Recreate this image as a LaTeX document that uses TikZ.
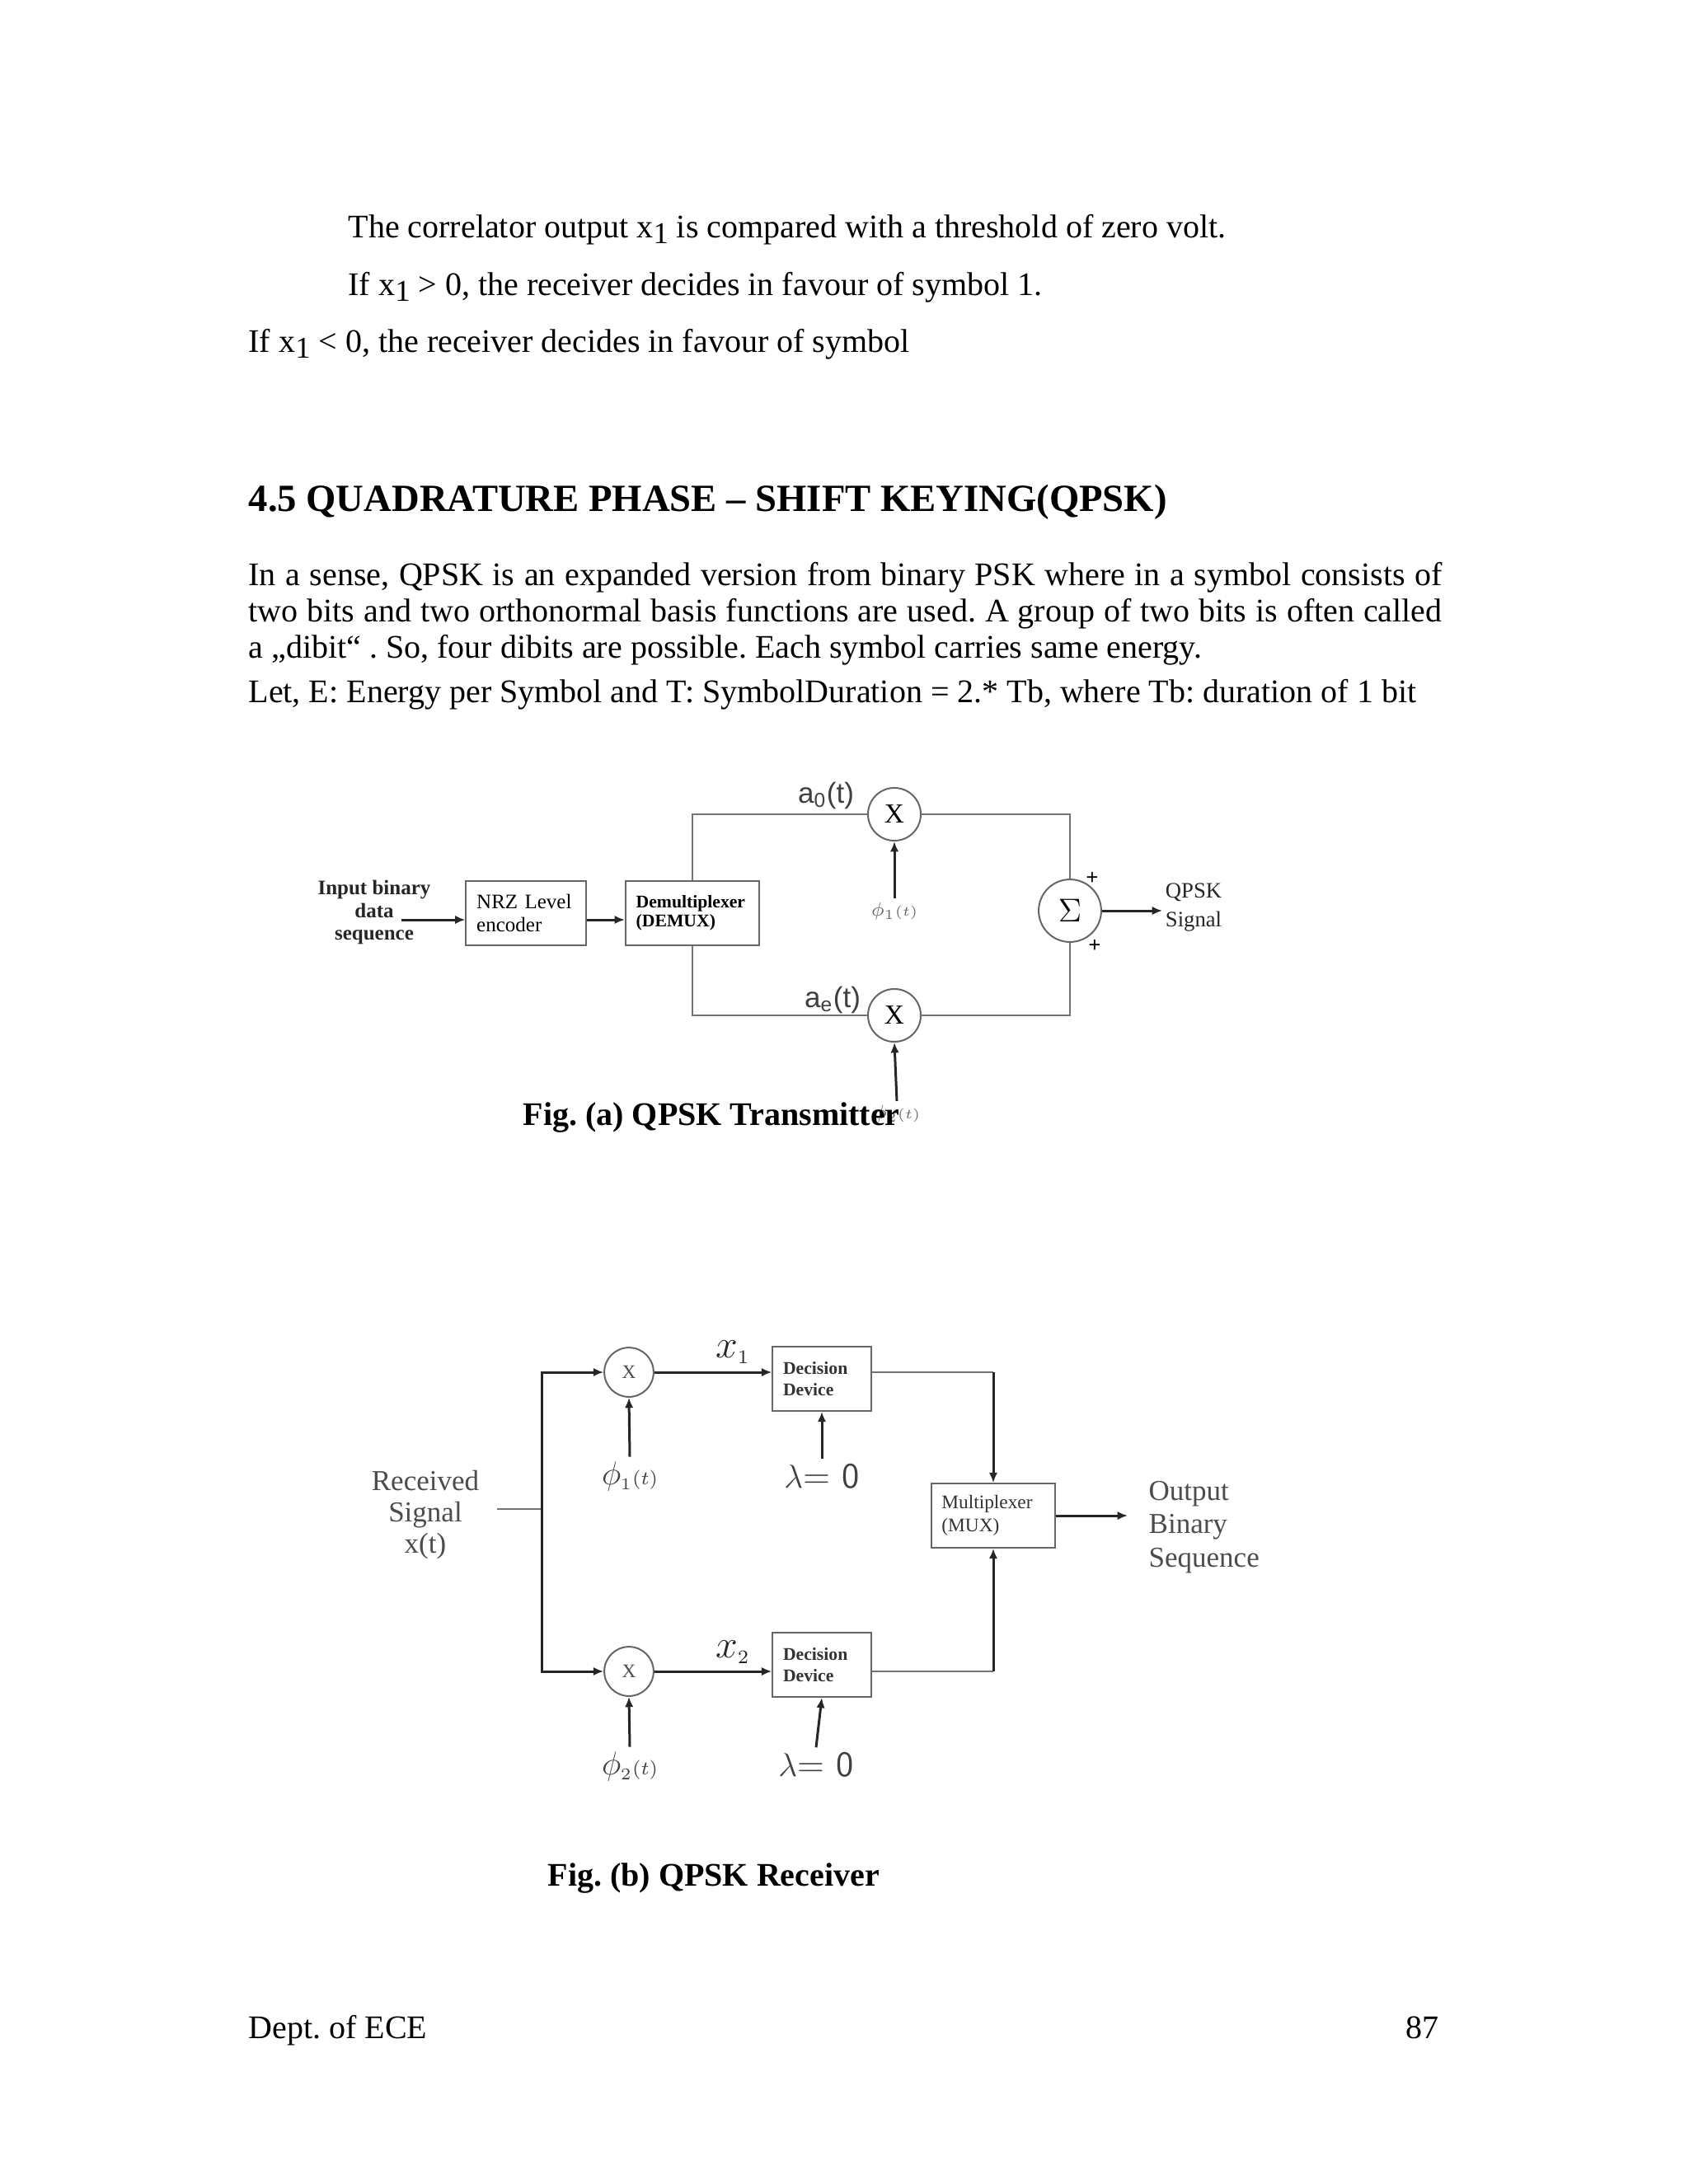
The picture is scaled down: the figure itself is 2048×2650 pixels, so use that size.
\documentclass[tikz,border=0pt]{standalone}
\usepackage{fontspec}
\setmainfont{Liberation Serif}
\newfontfamily\arialfont{Liberation Sans}
\usetikzlibrary{arrows.meta}
\newcommand{\fsz}[2]{\fontsize{#1}{#2}\selectfont}
\newcommand{\lowone}{\raisebox{-0.4ex}{\fsz{11}{11}1}}
\frenchspacing
\begin{document}
\begin{tikzpicture}[x=0.10542mm,y=-0.10542mm,
  every node/.style={inner sep=1.5pt},
  body/.style={anchor=base west,inner sep=0pt,font=\fsz{12}{14}},
  blk/.style={draw=black!60,line width=0.6pt,align=left,inner ysep=0pt,inner xsep=1.35mm},
  mult/.style={circle,draw=black!60,line width=0.6pt,inner sep=0pt},
  wire/.style={draw=black!55,line width=0.6pt},
  sig/.style={draw=black!85,line width=0.9pt,-{Latex[length=1.3mm,width=1.1mm]}}]

\fill[white] (0,0) rectangle (2048,2650);
\useasboundingbox (0,0) rectangle (2048,2650);

\node[body] (t1) at (422,288) {The correlator output x\lowone{} is compared with a threshold of zero volt.};
\node[body] (t2) at (422,358) {If x\lowone{} > 0, the receiver decides in favour of symbol 1.};
\node[body] (t3) at (301,427) {If x\lowone{} < 0, the receiver decides in favour of symbol};
\node[body,font=\bfseries\fsz{14}{16}] (head) at (301,620) {4.5 QUADRATURE PHASE – SHIFT KEYING(QPSK)};
\node[body] (p1) at (301,710) {\makebox[152.65mm][s]{In a sense, QPSK is an expanded version from binary PSK where in a symbol consists of}};
\node[body] (p2) at (301,754) {\makebox[152.65mm][s]{two bits and two orthonormal basis functions are used. A group of two bits is often called}};
\node[body] (p3) at (301,798) {a „dibit“ . So, four dibits are possible. Each symbol carries same energy.};
\node[body] (p4) at (301,852) {Let, E: Energy per Symbol and T: SymbolDuration = 2.* Tb, where Tb: duration of 1 bit};

\node[align=center,font=\bfseries\fsz{7.5}{8.2},text=black!85] (inp) at (454,1107) {Input binary\\data\\sequence};
\coordinate (in) at (487,1116);
\node[blk,text width=12.6mm,minimum height=8.3mm,font=\fsz{7.5}{8.4}] (nrz) at (638,1108) {NRZ Level\\encoder};
\node[blk,text width=14.4mm,minimum height=8.3mm,font=\bfseries\fsz{6.5}{7}] (demux) at (840,1108) {Demultiplexer\\(DEMUX)};
\node[mult,minimum size=6.75mm,font=\fsz{10}{10}] (mulA) at (1085,988) {X};
\node[mult,minimum size=6.75mm,font=\fsz{10}{10}] (mulB) at (1085,1232) {X};
\node[mult,minimum size=8mm,font=\fsz{12}{12}] (sum) at (1298,1105) {$\Sigma$};
\node[font=\arialfont\fsz{10.5}{10.5},text=black!75] (a0) at (1002,965) {a\textsubscript{0}(t)};
\node[font=\arialfont\fsz{10.5}{10.5},text=black!75] (ae) at (1010,1213) {a\textsubscript{e}(t)};
\node[font=\fsz{7.5}{7.5},text=black!60] (phiA) at (1085,1106) {$\phi_{\scriptscriptstyle 1}$\fsz{5}{5}$(t)$};
\node[font=\fsz{7.5}{7.5},text=black!60] (phiB) at (1088,1352) {$\phi_{\scriptscriptstyle 2}$\fsz{5}{5}$(t)$};
\node[font=\bfseries\fsz{8}{8}] (pa) at (1325,1066) {+};
\node[font=\bfseries\fsz{8}{8}] (pb) at (1328,1148) {+};
\coordinate (out) at (1410,1105);
\node[align=center,font=\fsz{8}{10.5},text=black!85] (qpsk) at (1448,1101) {QPSK\\Signal};
\draw[sig] (in) -- (nrz.west |- in);
\draw[sig] (nrz.east |- in) -- (demux.west |- in);
\draw[wire] (demux.north) |- (mulA.west);
\draw[wire] (demux.south) |- (mulB.west);
\draw[wire] (mulA.east) -| (sum.north);
\draw[wire] (mulB.east) -| (sum.south);
\draw[sig] (phiA.north) -- (mulA.south);
\draw[sig] (phiB.north) -- (mulB.south);
\draw[sig] (sum.east) -- (out);
\node[body,font=\bfseries\fsz{12}{14}] (capA) at (634,1365) {Fig. (a) QPSK Transmitter};

\node[align=center,font=\fsz{10.5}{11.5},text=black!70] (rcv) at (516,1838) {Received\\Signal\\x(t)};
\coordinate (rin) at (603,1831);
\coordinate (split) at (657,1831);
\node[mult,minimum size=6.3mm,font=\fsz{7}{7},text=black!70] (mulC) at (763,1665) {X};
\node[mult,minimum size=6.3mm,font=\fsz{7}{7},text=black!70] (mulD) at (763,2028) {X};
\node[blk,text width=9.9mm,minimum height=8.2mm,font=\bfseries\fsz{6.5}{8},text=black!80] (decC) at (997,1673) {Decision\\Device};
\node[blk,text width=9.9mm,minimum height=8.2mm,font=\bfseries\fsz{6.5}{8},text=black!80] (decD) at (997,2020) {Decision\\Device};
\node[blk,text width=13.2mm,minimum height=8.2mm,font=\fsz{7}{8.5},text=black!80] (mux) at (1205,1839) {Multiplexer\\(MUX)};
\node[font=\fsz{14}{14},text=black!85] (x1) at (889,1641) {$x_{\scriptscriptstyle 1}$};
\node[font=\fsz{14}{14},text=black!85] (x2) at (889,2005) {$x_{\scriptscriptstyle 2}$};
\node[font=\fsz{13}{13},text=black!75] (phC) at (764,1791) {$\phi_{\scriptscriptstyle 1}$\fsz{7}{7}$(t)$};
\node[font=\fsz{13}{13},text=black!75] (phD) at (764,2143) {$\phi_{\scriptscriptstyle 2}$\fsz{7}{7}$(t)$};
\node[font=\fsz{13}{13},text=black!75] (lamC) at (997,1791) {$\lambda$\textsf{= 0}};
\node[font=\fsz{13}{13},text=black!75] (lamD) at (990,2141) {$\lambda$\textsf{= 0}};
\coordinate (jC) at (mux.north |- mulC);
\coordinate (jD) at (mux.south |- mulD);
\coordinate (rout) at (1368,1839);
\node[anchor=west,align=left,font=\fsz{10.5}{12.2},text=black!70] (obs) at (1388,1853) {Output\\Binary\\Sequence};
\draw[wire] (rin) -- (split);
\draw[sig] (split) |- (mulC.west);
\draw[sig] (split) |- (mulD.west);
\draw[sig] (mulC.east) -- (decC.west |- mulC);
\draw[sig] (mulD.east) -- (decD.west |- mulD);
\draw[sig] (phC.north) -- (mulC.south);
\draw[sig] (phD.north) -- (mulD.south);
\draw[sig] (lamC.north) -- (decC.south);
\draw[sig] (lamD.north) -- (decD.south);
\draw[wire] (decC.east |- mulC) -- (jC);
\draw[wire] (decD.east |- mulD) -- (jD);
\draw[sig] (jC) -- (mux.north);
\draw[sig] (jD) -- (mux.south);
\draw[sig] (mux.east) -- (rout);
\node[body,font=\bfseries\fsz{12}{14}] (capB) at (664,2288) {Fig. (b) QPSK Receiver};

\node[body] (dept) at (301,2473) {Dept. of ECE};
\node[body,anchor=base east] (pg) at (1746,2473) {87};
\end{tikzpicture}
\end{document}
